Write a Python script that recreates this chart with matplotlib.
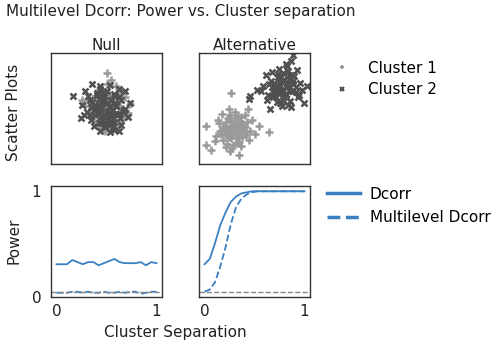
import numpy as np
import matplotlib.pyplot as plt
from matplotlib.lines import Line2D

# power curves
sep = np.linspace(0, 1, 20)
null_dcorr = [0.31, 0.31, 0.31, 0.35, 0.33, 0.31, 0.33, 0.33, 0.30, 0.32,
              0.34, 0.36, 0.33, 0.32, 0.32, 0.32, 0.33, 0.30, 0.33, 0.32]
null_mdcorr = [0.04, 0.04, 0.04, 0.05, 0.05, 0.04, 0.05, 0.04, 0.04, 0.05,
               0.04, 0.04, 0.05, 0.04, 0.05, 0.05, 0.03, 0.04, 0.05, 0.05]
alt_dcorr = [0.31, 0.36, 0.51, 0.68, 0.80, 0.90, 0.95, 0.98, 0.99, 1.0,
             1.0, 1.0, 1.0, 1.0, 1.0, 1.0, 1.0, 1.0, 1.0, 1.0]
alt_mdcorr = [0.05, 0.07, 0.14, 0.29, 0.47, 0.69, 0.85, 0.93, 0.97, 0.99,
              1.0, 1.0, 1.0, 1.0, 1.0, 1.0, 1.0, 1.0, 1.0, 1.0]
alpha_level = 0.05

# scatter samples (panel units 0-1)
null_c1_x = [0.28, 0.50, 0.54, 0.63, 0.71, 0.44, 0.37, 0.57, 0.48, 0.66, 0.40, 0.53, 0.59, 0.35,
             0.45, 0.50, 0.62, 0.43, 0.56, 0.49, 0.31, 0.67, 0.46, 0.58, 0.39, 0.52, 0.61, 0.41,
             0.44, 0.53, 0.61, 0.46, 0.57, 0.65, 0.40, 0.50, 0.33, 0.69, 0.54, 0.48, 0.58, 0.43, 0.62]
null_c1_y = [0.58, 0.82, 0.76, 0.65, 0.54, 0.63, 0.50, 0.45, 0.38, 0.42, 0.57, 0.55, 0.70, 0.44,
             0.32, 0.49, 0.52, 0.67, 0.60, 0.30, 0.52, 0.60, 0.46, 0.35, 0.40, 0.62, 0.47, 0.53,
             0.55, 0.58, 0.61, 0.42, 0.39, 0.48, 0.61, 0.72, 0.58, 0.46, 0.33, 0.65, 0.56, 0.48, 0.38]
null_c2_x = [0.20, 0.27, 0.61, 0.31, 0.37, 0.44, 0.53, 0.61, 0.67, 0.71, 0.35, 0.41, 0.48, 0.57,
             0.63, 0.40, 0.46, 0.52, 0.58, 0.32, 0.43, 0.50, 0.59, 0.66, 0.36, 0.45, 0.54, 0.62,
             0.39, 0.49, 0.56, 0.28, 0.44, 0.53, 0.69, 0.33, 0.48, 0.59, 0.41, 0.52, 0.37, 0.57,
             0.46, 0.63, 0.30, 0.50, 0.61, 0.43, 0.54, 0.45,
             0.40, 0.44, 0.48, 0.52, 0.56, 0.59, 0.43, 0.46, 0.50, 0.54, 0.58, 0.41, 0.45, 0.49,
             0.53, 0.57, 0.39, 0.61, 0.36, 0.65, 0.44, 0.50, 0.57, 0.48, 0.53, 0.35, 0.67, 0.46,
             0.54, 0.43]
null_c2_y = [0.61, 0.41, 0.30, 0.66, 0.72, 0.70, 0.71, 0.68, 0.66, 0.55, 0.58, 0.62, 0.60, 0.63,
             0.58, 0.52, 0.54, 0.51, 0.55, 0.47, 0.46, 0.48, 0.45, 0.49, 0.40, 0.42, 0.39, 0.41,
             0.34, 0.36, 0.33, 0.53, 0.30, 0.29, 0.42, 0.61, 0.57, 0.52, 0.50, 0.44, 0.56, 0.38,
             0.65, 0.35, 0.44, 0.40, 0.60, 0.37, 0.58, 0.50,
             0.44, 0.47, 0.43, 0.46, 0.49, 0.52, 0.53, 0.56, 0.55, 0.58, 0.61, 0.64, 0.37, 0.33,
             0.35, 0.31, 0.49, 0.45, 0.51, 0.47, 0.68, 0.66, 0.41, 0.62, 0.52, 0.44, 0.50, 0.40,
             0.43, 0.59]
alt_c1_x = [0.29, 0.06, 0.06, 0.63, 0.36, 0.11, 0.44, 0.54, 0.30, 0.15, 0.20, 0.24, 0.28, 0.32,
            0.37, 0.41, 0.46, 0.50, 0.18, 0.22, 0.26, 0.31, 0.35, 0.39, 0.43, 0.48, 0.21, 0.25,
            0.29, 0.34, 0.38, 0.42, 0.19, 0.27, 0.33, 0.40, 0.23, 0.30, 0.36, 0.45, 0.17, 0.26,
            0.32, 0.28, 0.35, 0.24, 0.38, 0.41, 0.14, 0.33,
            0.25, 0.28, 0.31, 0.34, 0.37, 0.27, 0.30, 0.33, 0.36, 0.22, 0.39, 0.29, 0.32, 0.26,
            0.35, 0.20, 0.42, 0.31, 0.24, 0.37]
alt_c1_y = [0.64, 0.17, 0.34, 0.29, 0.08, 0.13, 0.50, 0.34, 0.14, 0.25, 0.30, 0.38, 0.44, 0.41,
            0.36, 0.33, 0.30, 0.27, 0.37, 0.22, 0.28, 0.33, 0.28, 0.24, 0.38, 0.40, 0.45, 0.18,
            0.23, 0.19, 0.42, 0.26, 0.30, 0.50, 0.36, 0.31, 0.34, 0.27, 0.20, 0.22, 0.40, 0.31,
            0.47, 0.12, 0.33, 0.26, 0.16, 0.44, 0.21, 0.29,
            0.29, 0.34, 0.30, 0.35, 0.31, 0.24, 0.26, 0.23, 0.27, 0.33, 0.35, 0.39, 0.37, 0.41,
            0.43, 0.27, 0.29, 0.17, 0.15, 0.39]
alt_c2_x = [0.85, 0.46, 0.45, 0.52, 0.64, 0.95, 0.78, 0.83, 0.88, 0.60, 0.66, 0.71, 0.76, 0.81,
            0.86, 0.91, 0.58, 0.63, 0.68, 0.73, 0.79, 0.84, 0.90, 0.62, 0.67, 0.72, 0.77, 0.82,
            0.87, 0.70, 0.75, 0.80, 0.65, 0.74, 0.69, 0.78, 0.72, 0.85, 0.93, 0.61, 0.76, 0.89,
            0.68, 0.81, 0.74, 0.56, 0.97, 0.71, 0.79, 0.83,
            0.70, 0.73, 0.76, 0.79, 0.82, 0.72, 0.75, 0.78, 0.81, 0.68, 0.85, 0.74, 0.77, 0.71,
            0.80, 0.66, 0.87, 0.76, 0.69, 0.83, 0.79, 0.73]
alt_c2_y = [0.98, 0.61, 0.59, 0.67, 0.50, 0.55, 0.90, 0.93, 0.85, 0.80, 0.83, 0.78, 0.82, 0.77,
            0.79, 0.73, 0.70, 0.72, 0.68, 0.74, 0.70, 0.66, 0.62, 0.62, 0.60, 0.64, 0.60, 0.57,
            0.69, 0.56, 0.52, 0.53, 0.75, 0.66, 0.71, 0.63, 0.86, 0.72, 0.67, 0.58, 0.76, 0.60,
            0.65, 0.80, 0.55, 0.66, 0.70, 0.69, 0.73, 0.51,
            0.68, 0.71, 0.67, 0.72, 0.69, 0.63, 0.65, 0.62, 0.66, 0.73, 0.75, 0.78, 0.76, 0.81,
            0.84, 0.69, 0.65, 0.58, 0.60, 0.80, 0.88, 0.55]

blue = '#3a80c3'
light = '#9a9a9a'
dark = '#505050'
txt = '#222222'
W, H = 499, 346

fig = plt.figure(figsize=(4.99, 3.46), dpi=100)

def add_ax(left, top, w, h):
    return fig.add_axes([left / W, 1 - (top + h) / H, w / W, h / H])

ax_sn = add_ax(51, 53, 111, 111)
ax_sa = add_ax(199, 53, 111, 111)
ax_pn = add_ax(51, 186, 111, 111)
ax_pa = add_ax(199, 186, 111, 111)

for ax in [ax_sn, ax_sa, ax_pn, ax_pa]:
    for s in ax.spines.values():
        s.set_color('#333333')
        s.set_linewidth(1.0)

for ax, c1x, c1y, c2x, c2y, ttl in [(ax_sn, null_c1_x, null_c1_y, null_c2_x, null_c2_y, 'Null'),
                                     (ax_sa, alt_c1_x, alt_c1_y, alt_c2_x, alt_c2_y, 'Alternative')]:
    ax.plot(c1x, c1y, '+', color=light, markersize=6, mew=1.8)
    ax.plot(c2x, c2y, 'x', color=dark, markersize=5, mew=1.8)
    ax.set_xlim(0, 1)
    ax.set_ylim(0, 1)
    ax.set_xticks([])
    ax.set_yticks([])
    ax.set_title(ttl, fontsize=11, pad=1, color=txt)

for ax, d, m in [(ax_pn, null_dcorr, null_mdcorr), (ax_pa, alt_dcorr, alt_mdcorr)]:
    ax.plot(sep, d, '-', color=blue, linewidth=1.3)
    ax.plot(sep, m, '--', color=blue, linewidth=1.3)
    ax.axhline(alpha_level, color='#888888', linestyle='--', linewidth=1.0)
    ax.set_xlim(-0.055, 1.055)
    ax.set_ylim(0, 1.05)
    ax.set_xticks([0, 1])
    ax.set_xticklabels(['0', '1'])
    ax.tick_params(length=0, pad=5, labelsize=11, colors=txt)

ax_pn.set_yticks([0, 1])
ax_pn.set_yticklabels(['0', '1'])
ax_pn.tick_params(axis='y', pad=7)
ax_pa.set_yticks([])

fig.text(6 / W, 1 - 4 / H, 'Multilevel Dcorr: Power vs. Cluster separation',
         fontsize=11, va='top', ha='left', color=txt)
fig.text(14 / W, 1 - 112 / H, 'Scatter Plots', rotation=90, fontsize=11,
         va='center', ha='center', color=txt)
fig.text(14 / W, 1 - 241 / H, 'Power', rotation=90, fontsize=11,
         va='center', ha='center', color=txt)
fig.text(175 / W, 1 - 333 / H, 'Cluster Separation', fontsize=11,
         va='center', ha='center', color=txt)

h1 = [Line2D([], [], linestyle='', marker='+', color=light, markersize=3, mew=1.5),
      Line2D([], [], linestyle='', marker='x', color=dark, markersize=3, mew=1.5)]
fig.legend(h1, ['Cluster 1', 'Cluster 2'], loc='upper left', frameon=False,
           bbox_to_anchor=(321 / W, 1 - 47 / H), fontsize=11,
           handlelength=1.0, handletextpad=1.2, labelspacing=0.42)
h2 = [Line2D([], [], linestyle='-', color=blue, linewidth=2.5),
      Line2D([], [], linestyle='--', color=blue, linewidth=2.5)]
fig.legend(h2, ['Dcorr', 'Multilevel Dcorr'], loc='upper left', frameon=False,
           bbox_to_anchor=(313 / W, 1 - 173 / H), fontsize=11,
           handlelength=2.15, handletextpad=0.65, labelspacing=0.55)

fig.savefig('out.png', dpi=100)
